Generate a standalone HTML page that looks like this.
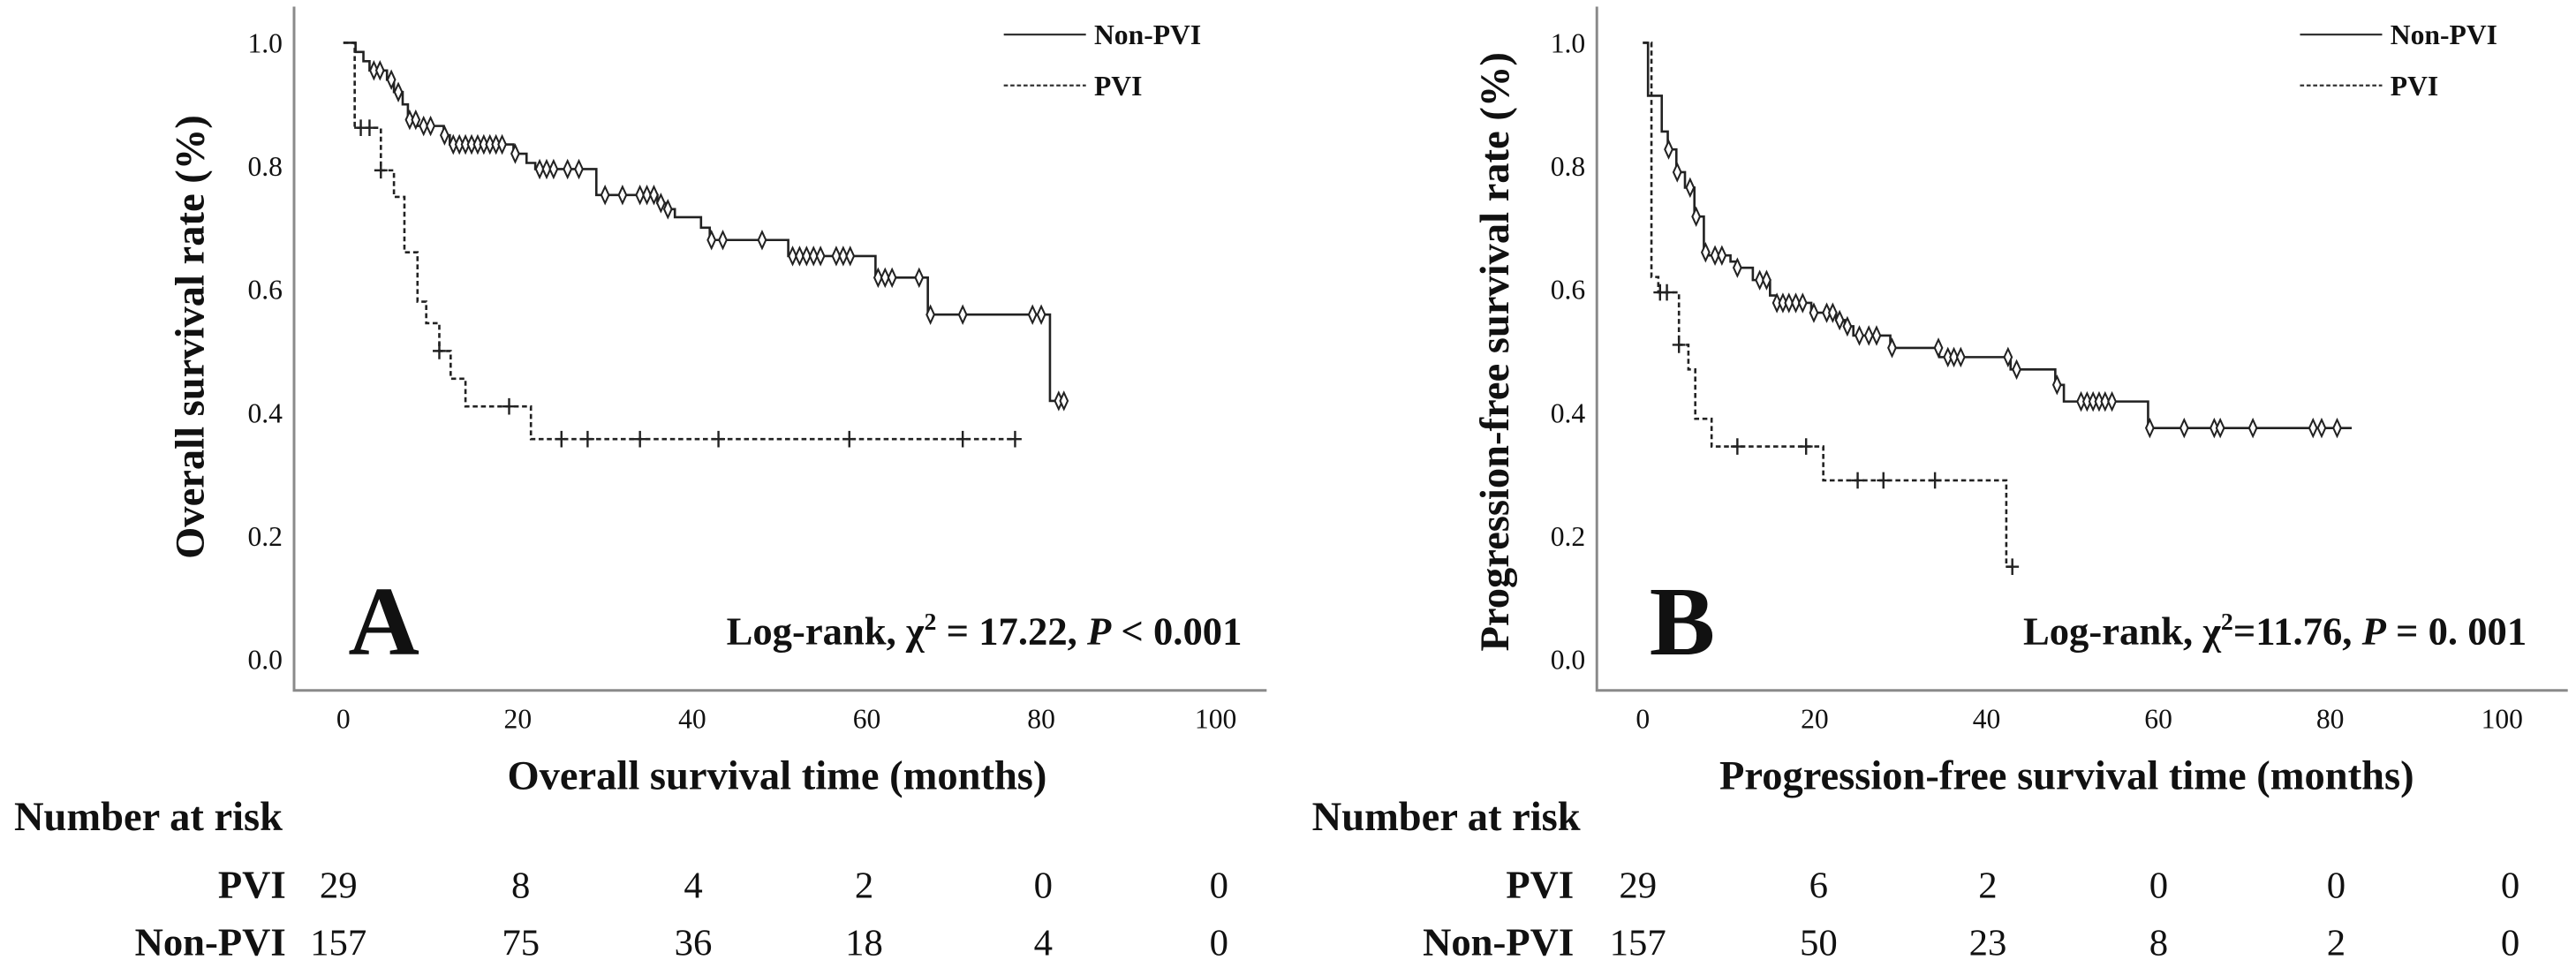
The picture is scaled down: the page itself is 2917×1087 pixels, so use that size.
<!DOCTYPE html>
<html><head><meta charset="utf-8"><style>
html,body{margin:0;padding:0;background:#fff;}
svg{display:block;}
text{font-family:"Liberation Serif",serif;fill:#111;}
.b{font-weight:bold;}
</style></head><body>
<svg id="fig" xmlns="http://www.w3.org/2000/svg" width="2917" height="1087" viewBox="0 0 1568 584" preserveAspectRatio="none">
</svg>
<script>
// ---- Data (months, survival) ----
const xTicks = [0, 20, 40, 60, 80, 100];
const yTicks = [0.0, 0.2, 0.4, 0.6, 0.8, 1.0];
const yTickLabels = ["0.0", "0.2", "0.4", "0.6", "0.8", "1.0"];

const aNonTimes = [0,1.4,2.3,3,5,5.8,6.8,7.4,8.5,11.5,12.2,19.5,21,22,29,36,37,38,41,42,51,61,67,81];
const aNonSurv  = [1.0,0.985,0.97,0.955,0.94,0.92,0.90,0.875,0.865,0.85,0.835,0.82,0.805,0.795,0.753,0.74,0.73,0.717,0.70,0.68,0.654,0.619,0.559,0.419];
const aNonEnd = 82.6;
const aNonCensor = [3.5,4.2,5.5,6.3,7.6,8.3,9.2,10,11.6,12.6,13.3,14,14.7,15.4,16.1,16.8,17.5,18.2,19.7,22.5,23.3,24.1,25.7,27,30,32,34,34.8,35.6,36.4,37.2,42.2,43.5,48,51.5,52.3,53.1,53.9,54.7,56.5,57.3,58.1,61.3,62.1,62.9,66,67.3,71,79,80,82,82.6];

const aPviTimes = [0,1.3,4.3,5.8,7,8.5,9.5,11,12.3,14,21.5];
const aPviSurv  = [1.0,0.862,0.793,0.75,0.66,0.58,0.545,0.50,0.455,0.41,0.357];
const aPviEnd = 77;
const aPviCensor = [2,3,4.3,11,19,25,28,34,43,58,71,77];

const bNonTimes = [0,0.6,2.2,2.9,3.9,4.9,6,7.1,7.6,10.2,11,12.8,14.8,15.5,19.6,22.5,23.5,24.5,28.8,34.5,42.8,48,49,58.8];
const bNonSurv  = [1.0,0.914,0.856,0.827,0.79,0.765,0.718,0.66,0.655,0.645,0.635,0.615,0.59,0.578,0.562,0.55,0.54,0.525,0.505,0.49,0.47,0.445,0.418,0.375];
const bNonEnd = 82.5;
const bNonCensor = [3,4,5.5,6.2,7.3,8.4,9.2,11,13.6,14.4,15.6,16.3,17,17.8,18.6,19.9,21.4,22.1,22.9,23.8,25.2,26.3,27.2,29,34.4,35.5,36.2,37,42.5,43.5,48.2,51,51.7,52.4,53.1,53.8,54.6,59,63,66.5,67.2,71,78,79,80.8];

const bPviTimes = [0,1,1.8,4.2,5.3,6.1,8,21,42.3];
const bPviSurv  = [1.0,0.62,0.595,0.51,0.47,0.39,0.345,0.29,0.15];
const bPviEnd = 43;
const bPviCensor = [2,2.8,4.2,11,19,25,28,34,43];

const aRiskPvi = ["29","8","4","2","0","0"];
const aRiskNon = ["157","75","36","18","4","0"];
const bRiskPvi = ["29","6","2","0","0","0"];
const bRiskNon = ["157","50","23","8","2","0"];

// ---- Drawing ----
const NS = "http://www.w3.org/2000/svg";
const svg = document.getElementById('fig');
function el(tag, attrs, parent, txt){
  const e = document.createElementNS(NS, tag);
  for (const k in attrs) e.setAttribute(k, attrs[k]);
  if (txt !== undefined) e.textContent = txt;
  (parent || svg).appendChild(e);
  return e;
}
function yOf(v){ return 401 - v * 375; }
function stepVal(times, surv, t){
  let v = surv[0];
  for (let i = 0; i < times.length; i++) if (times[i] <= t) v = surv[i];
  return v;
}

function panel(cfg){
  const g = el('g', {});
  
  
  const xOf = m => cfg.x0 + m * cfg.k;
  const ax = el('path', {d:`M${cfg.axisX} 4 V420 H${cfg.axisEnd}`, fill:'none', stroke:'#8a8a8a', 'stroke-width':1.6}, g);
  
  
  yTicks.forEach((v, i) => {
    const t = el('text', {x: cfg.axisX - 7, y: yOf(v) + 6, 'font-size': 17, 'text-anchor': 'end'}, g, yTickLabels[i]);
    
    
  });
  xTicks.forEach(m => {
    const t = el('text', {x: xOf(m), y: 443, 'font-size': 17, 'text-anchor': 'middle'}, g, String(m));
    
    
  });
  const yt = el('text', {x: 0, y: 0, 'font-size': 25, 'text-anchor': 'middle', class: 'b', transform: `translate(${cfg.yTitleX},${cfg.yTitleY}) rotate(-90)`}, g, cfg.yTitle);
  
  
  const xt = el('text', {x: cfg.xTitleX, y: 480, 'font-size': 25, 'text-anchor': 'middle', class: 'b'}, g, cfg.xTitle);
  
  
  const L = el('text', {x: cfg.letterX, y: 398, 'font-size': 60, class: 'b'}, g, cfg.letter);
  
  
  const lr = el('text', {x: cfg.lrEnd, y: 392, 'font-size': 24, 'text-anchor': 'end', class: 'b'}, g);
  
  
  el('tspan', {}, lr, 'Log-rank, χ');
  el('tspan', {'font-size': 15, dy: -9}, lr, '2');
  el('tspan', {dy: 9}, lr, cfg.lrMid);
  el('tspan', {'font-style': 'italic'}, lr, 'P');
  el('tspan', {}, lr, cfg.lrEndTxt);
  const lg = el('g', {}, g);
  
  
  el('line', {x1: cfg.legX, x2: cfg.legX + 50, y1: 21, y2: 21, stroke: '#333', 'stroke-width': 1.2}, lg);
  const l1 = el('text', {x: cfg.legX + 55, y: 27, 'font-size': 17, class: 'b'}, lg, 'Non-PVI');
  
  
  el('line', {x1: cfg.legX, x2: cfg.legX + 50, y1: 52, y2: 52, stroke: '#333', 'stroke-width': 1.2, 'stroke-dasharray': '2.5,1.5'}, lg);
  const l2 = el('text', {x: cfg.legX + 55, y: 58, 'font-size': 17, class: 'b'}, lg, 'PVI');
  
  
  function curve(times, surv, end, censor, dashed, nm){
    let d = `M${xOf(times[0])} ${yOf(surv[0])}`;
    for (let i = 1; i < times.length; i++){
      d += ` H${xOf(times[i])} V${yOf(surv[i])}`;
    }
    d += ` H${xOf(end)}`;
    const p = el('path', {d, fill: 'none', stroke: '#222', 'stroke-width': 1.4, 'stroke-dasharray': dashed ? '3,2' : 'none'}, g);
    
    
    censor.forEach(t => {
      const cx = xOf(t), cy = yOf(stepVal(times, surv, t));
      let m;
      if (dashed){
        m = el('path', {d: `M${cx-4} ${cy} H${cx+4} M${cx} ${cy-5} V${cy+5}`, stroke: '#222', 'stroke-width': 1.3, fill: 'none'}, g);
      } else {
        m = el('path', {d: `M${cx} ${cy-5} L${cx+2.3} ${cy} L${cx} ${cy+5} L${cx-2.3} ${cy} Z`, stroke: '#222', 'stroke-width': 1.1, fill: '#fff'}, g);
      }
      
      
    });
  }
  curve(cfg.pT, cfg.pS, cfg.pE, cfg.pC, true, 'pvi');
  curve(cfg.nT, cfg.nS, cfg.nE, cfg.nC, false, 'non-pvi');
  const nar = el('text', {x: cfg.narRight, y: 505, 'font-size': 25, 'text-anchor': 'end', class: 'b'}, g, 'Number at risk');
  
  
  const r1 = el('text', {x: cfg.rowRight, y: 546, 'font-size': 24, 'text-anchor': 'end', class: 'b'}, g, 'PVI');
  
  
  const r2 = el('text', {x: cfg.rowRight, y: 581, 'font-size': 24, 'text-anchor': 'end', class: 'b'}, g, 'Non-PVI');
  
  
  cfg.riskCols.forEach((cx, i) => {
    const a = el('text', {x: cx, y: 546, 'font-size': 23, 'text-anchor': 'middle'}, g, cfg.rp[i]);
    
    
    const b = el('text', {x: cx, y: 581, 'font-size': 23, 'text-anchor': 'middle'}, g, cfg.rn[i]);
    
    
  });
}

panel({name:'panel-a-overall-survival', x0:209, k:5.31, axisX:179, axisEnd:771,
  yTitle:'Overall survival rate (%)', yTitleX:124, yTitleY:205, xTitle:'Overall survival time (months)', xTitleX:473,
  letter:'A', letterX:212, lrEnd:756, lrMid:' = 17.22, ', lrEndTxt:' < 0.001', legX:611,
  pT:aPviTimes, pS:aPviSurv, pE:aPviEnd, pC:aPviCensor,
  nT:aNonTimes, nS:aNonSurv, nE:aNonEnd, nC:aNonCensor,
  narRight:172, rowRight:174, riskCols:[206,317,422,526,635,742], rp:aRiskPvi, rn:aRiskNon});

panel({name:'panel-b-progression-free-survival', x0:1000, k:5.23, axisX:972, axisEnd:1563,
  yTitle:'Progression-free survival rate (%)', yTitleX:918, yTitleY:214, xTitle:'Progression-free survival time (months)', xTitleX:1258,
  letter:'B', letterX:1004, lrEnd:1538, lrMid:'=11.76, ', lrEndTxt:' = 0. 001', legX:1400,
  pT:bPviTimes, pS:bPviSurv, pE:bPviEnd, pC:bPviCensor,
  nT:bNonTimes, nS:bNonSurv, nE:bNonEnd, nC:bNonCensor,
  narRight:962, rowRight:958, riskCols:[997,1107,1210,1314,1422,1528], rp:bRiskPvi, rn:bRiskNon});
</script>
</body></html>
